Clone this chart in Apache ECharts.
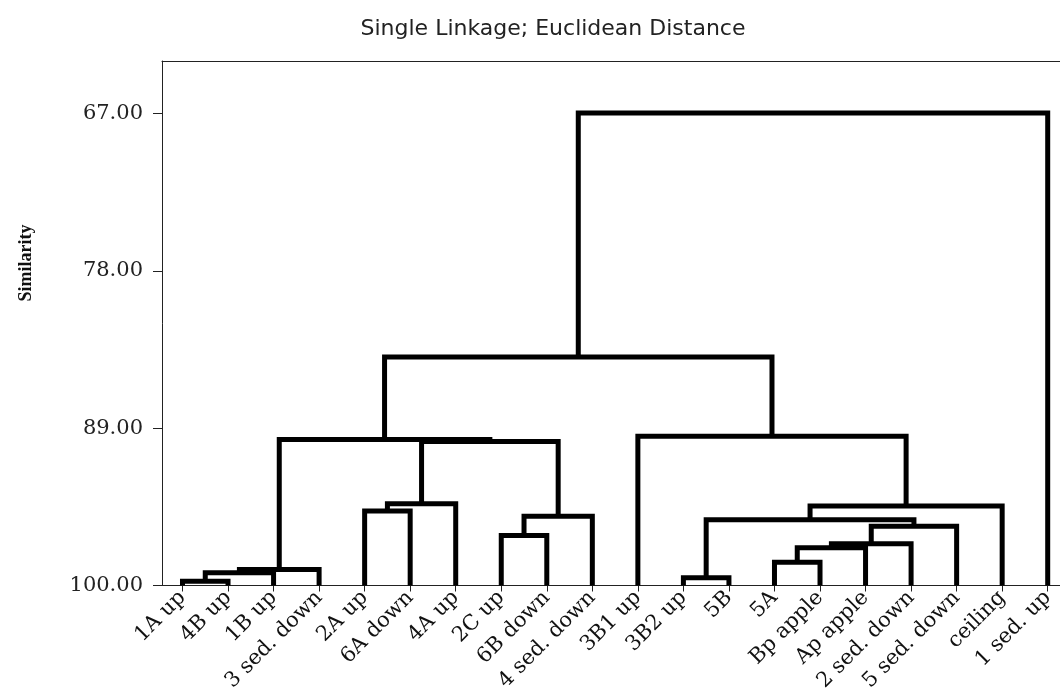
<!DOCTYPE html>
<html>
<head>
<meta charset="utf-8">
<script src="https://cdn.jsdelivr.net/npm/echarts@6/dist/echarts.min.js"></script>
<style>
  html, body { margin: 0; padding: 0; background: #fff; }
  #chart { width: 1060px; height: 700px; }
</style>
</head>
<body>
<div id="chart"></div>
<script>
// Leaf observations, left to right
const leafLabels = [
  '1A up', '4B up', '1B up', '3 sed. down', '2A up', '6A down', '4A up',
  '2C up', '6B down', '4 sed. down', '3B1 up', '3B2 up', '5B', '5A',
  'Bp apple', 'Ap apple', '2 sed. down', '5 sed. down', 'ceiling', '1 sed. up'
];

// Cluster merges: [left node, right node, similarity]
// Nodes 0..19 are leaves; merge k creates node 20 + k.
const mergeLeft  = [0, 20, 21, 4, 23, 7, 25, 24, 22, 11, 13, 30, 31, 32, 29, 34, 10, 28, 37];
const mergeRight = [1, 2, 3, 5, 6, 8, 9, 26, 27, 12, 14, 15, 16, 17, 33, 18, 35, 36, 19];
const mergeSim   = [99.70, 99.11, 98.88, 94.80, 94.29, 96.50, 95.15, 89.93, 89.79,
                    99.46, 98.37, 97.36, 97.08, 95.85, 95.41, 94.45, 89.56, 84.02, 66.96];

// Similarity tick labels
const simTicks = [67, 78, 89, 100];

// Node positions (leaf index or midpoint of children) and heights
const nodeX = leafLabels.map((_, i) => i);
const nodeH = leafLabels.map(() => 100);
const links = [];
for (let k = 0; k < mergeSim.length; k++) {
  const a = mergeLeft[k], b = mergeRight[k], h = mergeSim[k];
  links.push([nodeX[a], nodeH[a], nodeX[b], nodeH[b], h]);
  nodeX.push((nodeX[a] + nodeX[b]) / 2);
  nodeH.push(h);
}
const leafTicks = nodeX.slice(0, leafLabels.length);

const chart = echarts.init(document.getElementById('chart'), null, { renderer: 'canvas' });

chart.setOption({
  animation: false,
  backgroundColor: '#ffffff',
  title: {
    text: 'Single Linkage; Euclidean Distance',
    left: 548,
    top: 13,
    textAlign: 'center',
    textStyle: { fontFamily: 'DejaVu Sans', fontSize: 22, fontWeight: 'normal', color: '#222' }
  },
  graphic: [{
    type: 'text',
    x: 26,
    y: 263,
    rotation: Math.PI / 2,
    style: {
      text: 'Similarity',
      fontFamily: 'Liberation Serif',
      fontWeight: 'bold',
      fontSize: 18,
      fill: '#111',
      align: 'center',
      verticalAlign: 'middle'
    }
  }],
  grid: {
    left: 162, top: 61, right: 0, bottom: 114.5,
    show: false
  },
  xAxis: [{
    type: 'value',
    min: -0.45,
    max: 19.27,
    axisLine: { show: true, onZero: false, lineStyle: { color: '#222', width: 1 } },
    axisTick: { show: true, length: 6, lineStyle: { color: '#222' }, customValues: leafTicks },
    axisLabel: {
      customValues: leafTicks,
      formatter: v => leafLabels[Math.round(v)],
      rotate: 45,
      margin: 9,
      fontFamily: 'DejaVu Serif',
      fontSize: 21,
      color: '#111'
    },
    splitLine: { show: false }
  }, {
    // top frame line of the plot
    type: 'value',
    position: 'top',
    min: -0.45,
    max: 19.27,
    axisLine: { show: true, onZero: false, lineStyle: { color: '#222', width: 1 } },
    axisTick: { show: false },
    axisLabel: { show: false },
    splitLine: { show: false }
  }],
  yAxis: {
    type: 'value',
    inverse: true,
    min: 63.33,
    max: 100,
    axisLine: { show: true, onZero: false, lineStyle: { color: '#222', width: 1 } },
    axisTick: { show: true, length: 9, lineStyle: { color: '#222' }, customValues: simTicks },
    axisLabel: {
      customValues: simTicks,
      formatter: v => v.toFixed(2),
      margin: 19,
      fontFamily: 'DejaVu Serif',
      fontSize: 21,
      color: '#222'
    },
    splitLine: { show: false }
  },
  series: [{
    type: 'custom',
    coordinateSystem: 'cartesian2d',
    xAxisIndex: 0,
    yAxisIndex: 0,
    clip: false,
    data: links,
    encode: { x: [0, 2], y: [1, 3, 4] },
    renderItem: function (params, api) {
      const xl = api.value(0), hl = api.value(1);
      const xr = api.value(2), hr = api.value(3), h = api.value(4);
      return {
        type: 'polyline',
        shape: {
          points: [
            api.coord([xl, hl]),
            api.coord([xl, h]),
            api.coord([xr, h]),
            api.coord([xr, hr])
          ]
        },
        style: { stroke: '#000', lineWidth: 5, fill: null, lineJoin: 'miter', lineCap: 'butt' }
      };
    }
  }]
});
</script>
</body>
</html>
